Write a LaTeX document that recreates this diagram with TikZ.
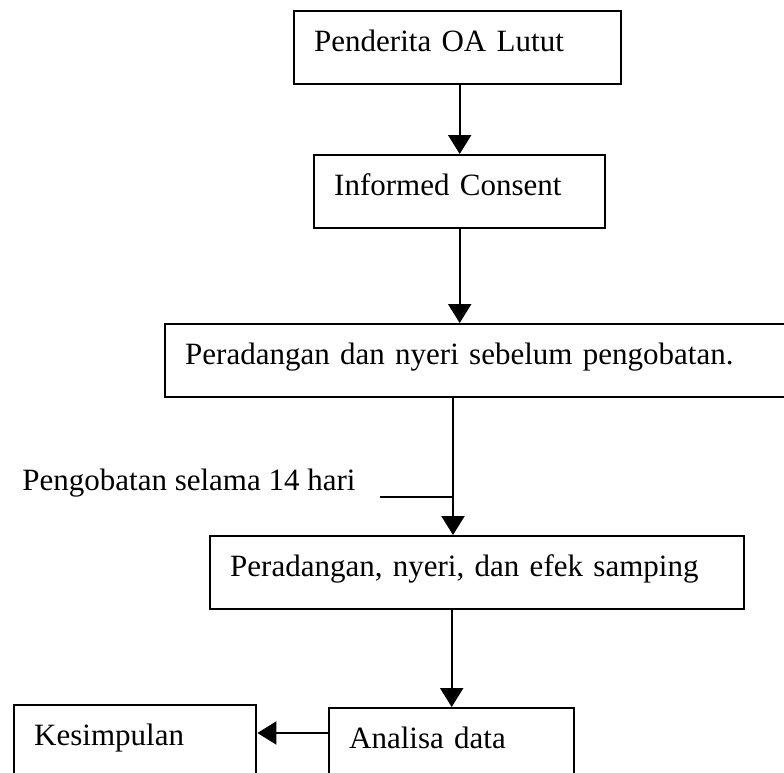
\documentclass[tikz,border=0pt]{standalone}
\usepackage{fontspec}
\setmainfont{Liberation Serif}
\usepackage{tikz}
\usetikzlibrary{arrows.meta,calc}

\begin{document}
\begin{tikzpicture}[
  x=0.5pt, y=-0.5pt,
  every node/.style={font=\fontsize{15.5}{18}\selectfont},
  flowbox/.style={draw, line width=1.2pt, anchor=north west, align=left,
                  inner xsep=10pt, inner ysep=0pt,
                  text height=20pt, text depth=16.5pt, text width=#1},
  arr/.style ={-{Triangle[length=9.5pt,width=11.5pt]}, line width=1.1pt},
  plain/.style={line width=1.1pt}]

\useasboundingbox (0,0) rectangle (784,773);
\clip (0,0) rectangle (784,773);

\node[flowbox=143.5pt] (penderita) at (293,10)  {Penderita OA Lutut};
\node[flowbox=125.5pt] (consent)   at (313,154) {Informed Consent};
\node[flowbox=298pt]   (sebelum)   at (164,323) {Peradangan dan nyeri sebelum pengobatan.};
\node[flowbox=247pt]   (efek)      at (209,535) {Peradangan, nyeri, dan efek samping};
\node[flowbox=101pt]   (kesimpulan) at (13,704) {Kesimpulan};
\node[flowbox=102.5pt] (analisa)   at (328,707) {Analisa data};

\node[anchor=base west, inner sep=0pt] (lama) at (22,490) {Pengobatan selama 14 hari};

\coordinate (spine) at (453,0);
\coordinate (tick)  at (380,497);
\coordinate (level) at (0,733);

\draw[arr] (penderita.south -| consent.north) -- (consent.north);
\draw[arr] (consent.south) -- (consent.south |- sebelum.north);
\draw[arr] (spine |- sebelum.south) -- (spine |- efek.north);
\draw[arr] (efek.south -| analisa.north) -- (analisa.north);
\draw[arr] (analisa.west |- level) -- (kesimpulan.east |- level);

%% treatment period joins the main line from the left
\draw[plain] (tick) -- (spine |- tick);
\end{tikzpicture}
\end{document}
